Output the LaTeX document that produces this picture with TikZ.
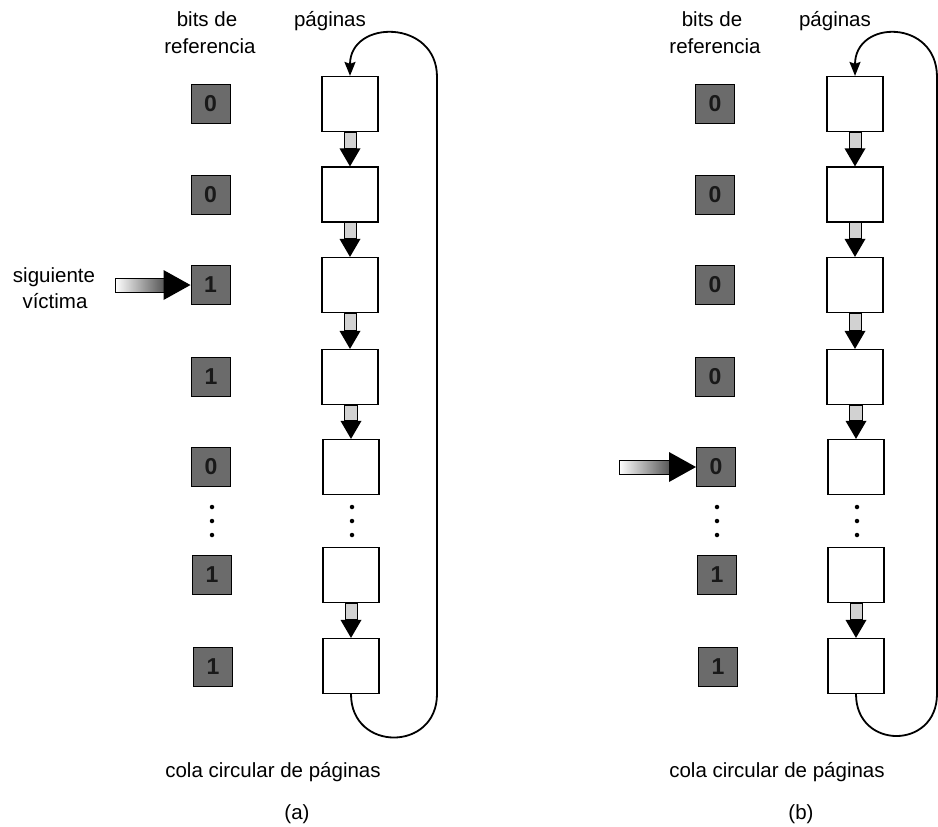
\documentclass[tikz,border=0pt]{standalone}
\usepackage{fontspec}
\setmainfont{Liberation Sans}
\usetikzlibrary{calc,arrows.meta}
\newcommand\pagearrow[2]{%
  \filldraw[fill=gray!35,line width=0.9pt] ($(#1.south)+(-6,0)$) rectangle ($(#2.north)+(6,-18)$);
  \fill ($(#2.north)+(-10.5,-18)$) -- (#2.north) -- ($(#2.north)+(10.5,-18)$) -- cycle;}
\newcommand\victimarrow[2]{%
  \shade[left color=white,right color=black!65] ($(#1)+(0,-7)$) rectangle ($(#2.west)+(-27,7)$);
  \draw[line width=0.9pt] ($(#2.west)+(-27,-7)$) -- ($(#1)+(0,-7)$) -- ($(#1)+(0,7)$) -- ($(#2.west)+(-27,7)$);
  \fill ($(#2.west)+(-27,-15)$) -- (#2.west) -- ($(#2.west)+(-27,15)$) -- cycle;}
\begin{document}
\begin{tikzpicture}[x=1pt,y=-1pt,
  txt/.style={font=\fontsize{20.5}{25}\selectfont,inner sep=0,anchor=base},
  bitbox/.style={draw=black,line width=1pt,fill=black!58,minimum width=39pt,minimum height=39pt,inner sep=0,
    font=\fontsize{23}{23}\selectfont\bfseries,text=black!90},
  pagebox/.style={draw=black,line width=1.2pt,minimum width=56pt,minimum height=55pt,inner sep=0},
  loopline/.style={line width=1.8pt,-{Stealth[length=14pt,width=11pt,inset=2pt]}},
  dot/.style={fill=black,circle,inner sep=0,minimum size=4.5pt}]
\useasboundingbox (0,0) rectangle (938,827);

% ---------------- panel (a)
\node[txt] (ta1) at (207,26) {bits de};
\node[txt] (ta2) at (210,53) {referencia};
\node[txt] (ta3) at (330,26) {páginas};
\node[txt] (ta4) at (54,282) {siguiente};
\node[txt] (ta5) at (55,308) {víctima};
\node[txt] (ta6) at (273,777) {cola circular de páginas};
\node[txt] (ta7) at (297,819) {(a)};

\node[bitbox] (a1) at (210.5,104) {0};
\node[bitbox] (a2) at (210.5,195) {0};
\node[bitbox] (a3) at (210.5,285) {1};
\node[bitbox] (a4) at (211,377) {1};
\node[bitbox] (a5) at (211,467) {0};
\node[bitbox] (a6) at (212,575) {1};
\node[bitbox] (a7) at (213,667) {1};
\node[dot] (ad1) at (212,507) {};
\node[dot] (ad2) at (212,521) {};
\node[dot] (ad3) at (212,535) {};

\node[pagebox] (pa1) at (350,104) {};
\node[pagebox] (pa2) at (350,194.5) {};
\node[pagebox] (pa3) at (350,285) {};
\node[pagebox] (pa4) at (350,377) {};
\node[pagebox] (pa5) at (351,467) {};
\node[pagebox] (pa6) at (351,575) {};
\node[pagebox] (pa7) at (351,666) {};
\node[dot] (pd1) at (352,507) {};
\node[dot] (pd2) at (352,521) {};
\node[dot] (pd3) at (352,535) {};

\pagearrow{pa1}{pa2}
\pagearrow{pa2}{pa3}
\pagearrow{pa3}{pa4}
\pagearrow{pa4}{pa5}
\pagearrow{pa6}{pa7}

\coordinate (ra1) at (437,694);
\coordinate (ra2) at (437,77);
\draw[loopline] (pa7.south) .. controls (351,752) and (437,752) .. (ra1) -- (ra2)
  .. controls (437,19) and (350,19) .. (pa1.north);

\coordinate (va) at (115,285);
\victimarrow{va}{a3}

% ---------------- panel (b)
\node[txt] (tb1) at (712,26) {bits de};
\node[txt] (tb2) at (715,53) {referencia};
\node[txt] (tb3) at (835,26) {páginas};
\node[txt] (tb6) at (777,777) {cola circular de páginas};
\node[txt] (tb7) at (801,819) {(b)};

\node[bitbox] (b1) at (715,104) {0};
\node[bitbox] (b2) at (715,195) {0};
\node[bitbox] (b3) at (715,285) {0};
\node[bitbox] (b4) at (715,377) {0};
\node[bitbox] (b5) at (716,467) {0};
\node[bitbox] (b6) at (717,575) {1};
\node[bitbox] (b7) at (718,667) {1};
\node[dot] (bd1) at (717,507) {};
\node[dot] (bd2) at (717,521) {};
\node[dot] (bd3) at (717,535) {};

\node[pagebox] (pb1) at (855,104) {};
\node[pagebox] (pb2) at (855,194.5) {};
\node[pagebox] (pb3) at (855,285) {};
\node[pagebox] (pb4) at (855,377) {};
\node[pagebox] (pb5) at (856,467) {};
\node[pagebox] (pb6) at (856,575) {};
\node[pagebox] (pb7) at (856,666) {};
\node[dot] (qd1) at (857,507) {};
\node[dot] (qd2) at (857,521) {};
\node[dot] (qd3) at (857,535) {};

\pagearrow{pb1}{pb2}
\pagearrow{pb2}{pb3}
\pagearrow{pb3}{pb4}
\pagearrow{pb4}{pb5}
\pagearrow{pb6}{pb7}

\coordinate (rb1) at (937,694);
\coordinate (rb2) at (937,77);
\draw[loopline] (pb7.south) .. controls (856,750) and (937,750) .. (rb1) -- (rb2)
  .. controls (937,19) and (855,19) .. (pb1.north);

\coordinate (vb) at (619,467);
\victimarrow{vb}{b5}
\end{tikzpicture}
\end{document}
